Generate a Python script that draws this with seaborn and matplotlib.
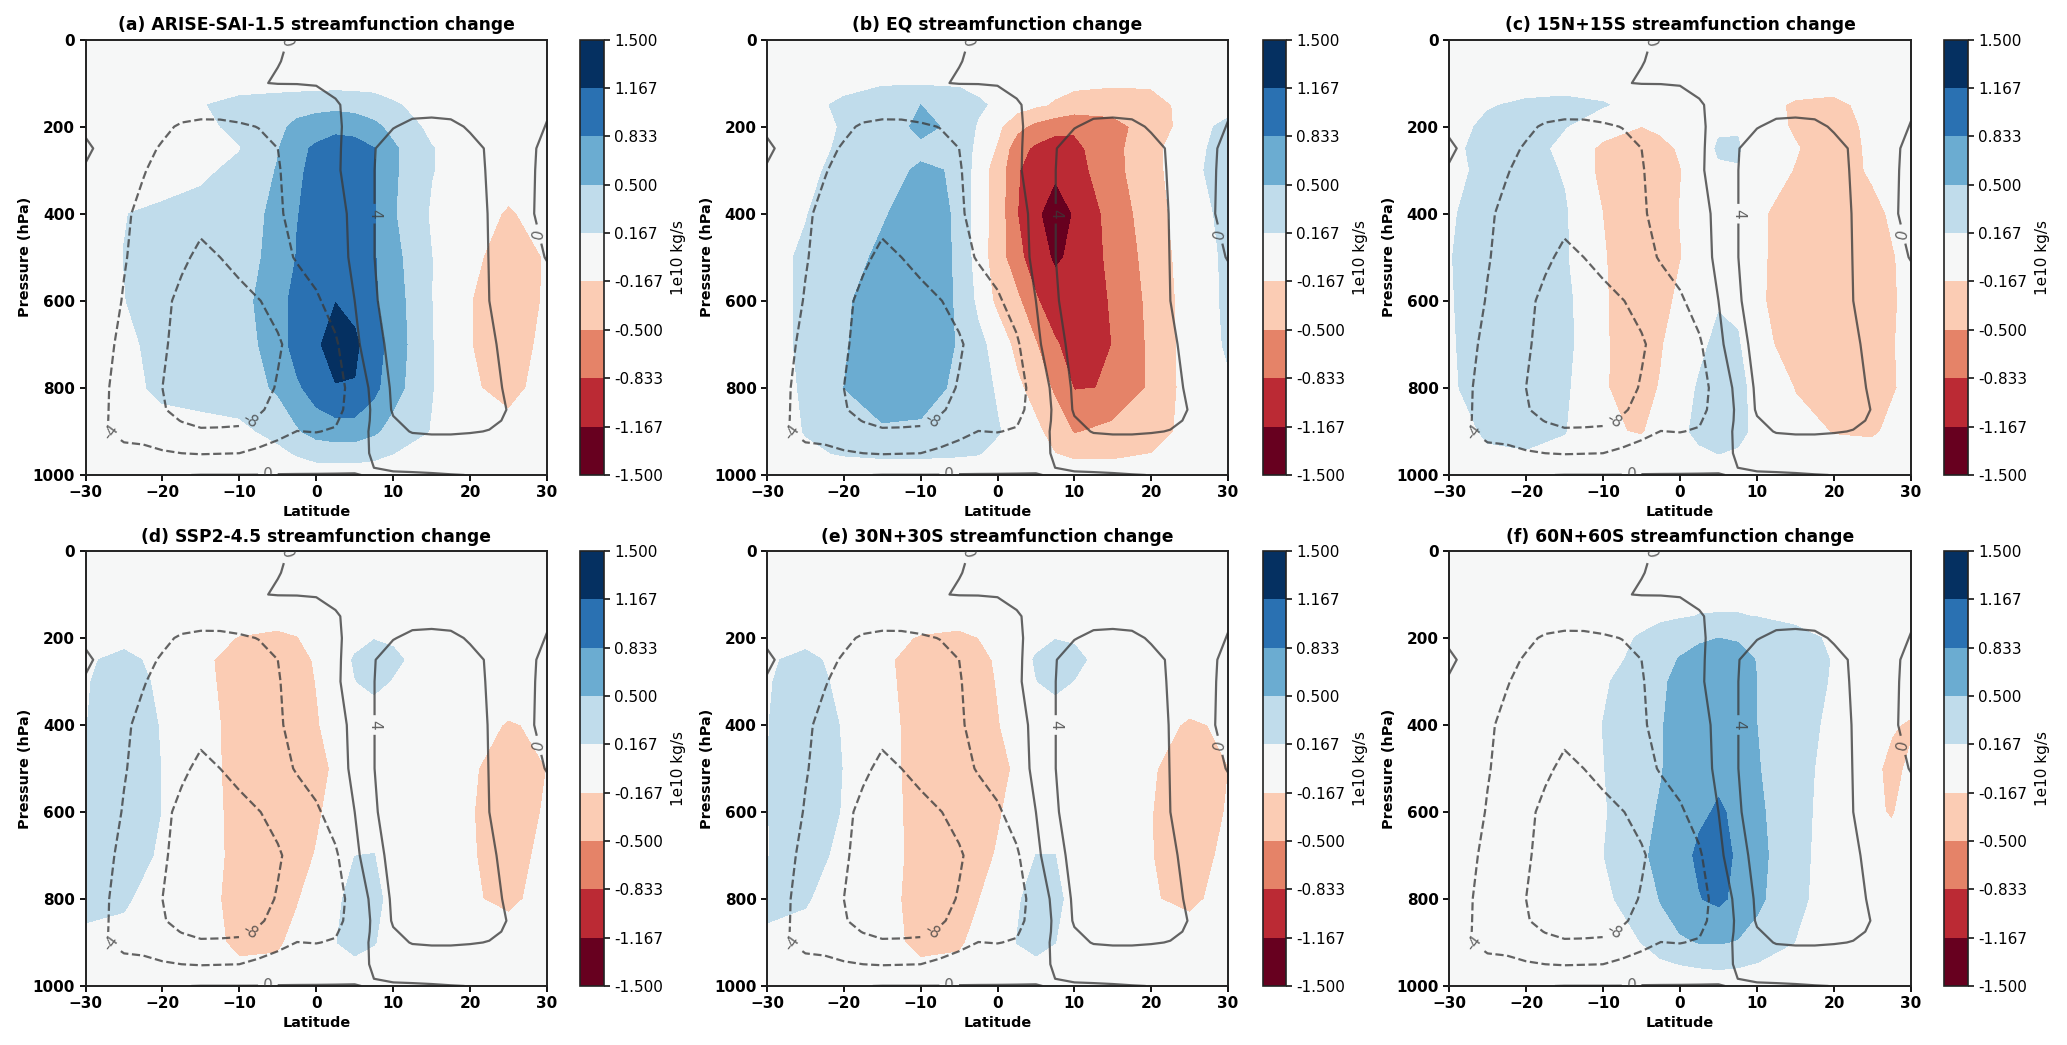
import numpy as np
import matplotlib
matplotlib.use("Agg")
import matplotlib.pyplot as plt
import seaborn as sns

sns.set_theme(style="ticks", font="DejaVu Sans", rc={
    "text.color": "black", "axes.labelcolor": "black", "xtick.color": "black",
    "ytick.color": "black", "axes.edgecolor": "#222222"})

# Grids
lat_clim = [-30, -27.5, -25, -22.5, -20, -17.5, -15, -12.5, -10, -7.5, -5, -2.5, 0, 2.5, 5, 7.5, 10,
            12.5, 15, 17.5, 20, 22.5, 25, 27.5, 30]
p_clim = [0, 50, 100, 150, 200, 250, 300, 400, 500, 600, 700, 800, 850, 875, 900, 950, 1000]
lat_chg = [-30, -25, -20, -15, -10, -5, -2.5, 0, 2.5, 5, 7.5, 10, 15, 20, 25, 30]
lat_f = [-30, -25, -20, -15, -10, -5, -2.5, 0, 2.5, 5, 7.5, 10, 15, 20, 25, 27.5, 30]
p_chg = [0, 100, 150, 200, 250, 300, 400, 500, 600, 700, 800, 900, 950, 1000]

# Climatological streamfunction (1e10 kg/s)
clim = [
    [-.1, -.1, -.1, -.1, -.1, -.1, -.1, -.1, -.1, -.1, -.1, .1, .1, .1, .1, .1, .1, .1, .1, .1, .1, .1, .1, .1, .1],
    [-.2, -.2, -.2, -.2, -.2, -.2, -.2, -.2, -.2, -.15, -.02, .1, .1, .2, .2, .2, .2, .2, .2, .2, .2, .2, .2, .2, .2],
    [-.1, -.15, -.2, -.25, -.3, -.4, -.5, -.4, -.3, -.05, .05, .05, .1, .5, 1, 1.3, 1.5, 1.5, 1.5, 1.4, 1.2, 1, .8, .5, .3],
    [-.2, -.4, -.7, -1, -1.5, -1.8, -2, -1.9, -1.8, -1.6, -1.3, -1, -.7, -.2, .6, 1.2, 2, 2.4, 2.6, 2.4, 2, 1.6, 1.2, .8, .3],
    [-.2, -.8, -1.5, -2.3, -3.2, -4.5, -5, -5, -4.5, -3.9, -3, -2, -1.2, -.4, .8, 2, 3.8, 4.9, 5, 4.8, 3.6, 2.8, 1.8, .8, -.1],
    [.2, -.3, -1.5, -3, -4.4, -5.4, -6, -6.2, -6, -5.2, -4, -2.5, -1.5, -.6, 1.5, 3.8, 6, 6.8, 7, 6.3, 5, 3.6, 2, .4, -.5],
    [-.1, -.5, -2, -3.8, -5, -6.2, -7, -7.2, -7, -5.8, -4.2, -2.8, -1.7, -.7, 2, 3.9, 7, 7.8, 8, 7.2, 5.5, 3.6, 2, .5, -.8],
    [-.3, -1.5, -3.5, -4.8, -6, -6.7, -7.2, -7.3, -7, -5.8, -4.4, -3, -2, -1, .7, 3.9, 7, 8.2, 8.5, 7.8, 6, 3.8, 2.2, .5, -1],
    [-1, -2.2, -3.8, -5, -6.3, -7.5, -8.6, -8, -7, -6.1, -5.2, -3.7, -2.5, -1.2, .6, 3.9, 7, 8.2, 8.5, 7.8, 6, 3.9, 2.2, .7, -.1],
    [-1.5, -2.7, -4.2, -5.5, -7.3, -8.7, -10, -9.7, -9, -8.1, -7.2, -5.8, -4.5, -2.5, 0, 3.5, 6, 7.5, 8, 7.5, 6, 4, 3, 2, 1],
    [-2, -3.2, -4.8, -6, -7.6, -9, -10.5, -10.5, -10, -9.2, -8.3, -7, -6, -4.5, -1, 2.8, 5, 6.3, 7, 6.7, 6, 4.6, 3, 2, 1],
    [-2, -3.7, -5, -6.5, -8, -9, -10, -10.2, -10, -8.9, -7.8, -6.5, -6, -5, -3, 1.2, 4.6, 5.5, 6, 5.8, 5.5, 5, 3.5, 2, 1],
    [-1.5, -3.8, -4.8, -6, -7.8, -8.8, -9.5, -9.5, -9.2, -8.3, -7.3, -6, -5.7, -5, -2.5, .6, 4.4, 5.2, 5.5, 5.3, 5, 4.8, 3.9, 2, 1],
    [-1.5, -3.8, -4.9, -5.8, -7.2, -8.1, -8.6, -8.5, -8.4, -7.7, -6.2, -5, -4.9, -4.4, -1.8, .5, 3.7, 4.9, 5, 4.8, 4.6, 4.5, 3.7, 1.8, .9],
    [-1.5, -3.7, -5, -5.5, -6.5, -7.2, -7.7, -7.7, -7.6, -6.3, -5, -3.95, -4.1, -3.7, -1, .4, 3, 4.2, 4.4, 4.4, 4.2, 3.9, 2.5, 1.5, .8],
    [-.8, -2, -3, -3, -3.6, -4, -4.2, -4.1, -4, -3.2, -2.5, -2, -1.8, -1.5, -.6, .2, 1, 1.3, 1.5, 1.5, 1.5, 1.2, 1, .7, .4],
    [-.2, -.2, -.2, -.1, -.1, -.05, .05, .05, .05, .05, .1, .1, .1, .1, .05, -.1, -.2, -.2, -.15, -.05, .02, .02, .02, .02, .02],
]

change_a = [
    [0] * 16,
    [0, 0, 0, .01, .05, .05, .05, .05, .05, .05, .05, .03, 0, 0, 0, 0],
    [0, 0, .05, .15, .25, .3, .33, .35, .38, .35, .3, .2, .05, 0, 0, 0],
    [0, 0, .02, .08, .25, .4, .6, .72, .78, .72, .58, .4, .08, 0, 0, 0],
    [0, 0, .02, .05, .15, .48, .77, .87, .92, .95, .84, .55, .18, 0, -.02, 0],
    [0, 0, .03, .1, .25, .52, .78, .92, 1.0, 1.02, .86, .55, .18, 0, -.03, 0],
    [0, .16, .22, .28, .38, .56, .82, .95, 1.03, 1.05, .85, .53, .13, -.03, -.2, -.05],
    [.02, .17, .28, .33, .42, .56, .85, 1.0, 1.1, 1.1, .86, .6, .17, -.11, -.28, -.15],
    [.02, .16, .28, .35, .38, .7, .95, 1.05, 1.16, 1.08, .88, .65, .17, -.16, -.3, -.14],
    [0, .1, .26, .33, .36, .64, 1.0, 1.12, 1.3, 1.22, 1.0, .68, .18, -.16, -.3, -.1],
    [0, .03, .26, .3, .32, .55, .77, 1.0, 1.15, 1.15, .92, .63, .18, -.12, -.28, -.03],
    [0, 0, 0, .05, .1, .25, .46, .62, .68, .68, .55, .38, .15, -.02, -.05, 0],
    [0, 0, 0, 0, 0, .1, .19, .28, .3, .3, .25, .17, .03, 0, 0, 0],
    [0] * 16,
]

change_b = [
    [0] * 16,
    [0, 0, .05, .13, .13, .12, .03, 0, -.02, -.05, -.08, -.1, -.12, -.1, -.02, 0],
    [0, .05, .24, .38, .5, .35, .24, .08, -.03, -.12, -.2, -.3, -.38, -.36, 0, 0],
    [0, .05, .19, .35, .56, .44, .12, -.1, -.4, -.6, -.72, -.78, -.6, -.37, -.02, .28],
    [0, .05, .22, .38, .45, .42, .05, -.2, -.7, -.9, -1.0, -.92, -.6, -.28, .08, .27],
    [0, .06, .3, .42, .53, .48, -.03, -.3, -.8, -1.0, -1.12, -.98, -.6, -.3, .1, .28],
    [0, .15, .38, .48, .6, .47, -.02, -.3, -.82, -1.12, -1.3, -1.15, -.7, -.33, .03, .25],
    [.05, .22, .42, .54, .62, .47, -.02, -.32, -.74, -1.0, -1.22, -1.1, -.75, -.38, 0, .22],
    [.05, .22, .47, .6, .65, .47, .08, -.25, -.42, -.8, -1.02, -1.08, -.8, -.42, -.02, .22],
    [.05, .22, .48, .62, .65, .48, .26, .03, -.26, -.48, -.8, -.96, -.83, -.44, -.02, .2],
    [.04, .2, .5, .62, .62, .44, .29, .13, -.1, -.3, -.56, -.85, -.82, -.45, -.03, .13],
    [0, .18, .4, .47, .45, .35, .28, .19, .05, -.1, -.3, -.53, -.4, -.32, -.06, 0],
    [0, .12, .19, .22, .22, .2, .18, .09, .02, -.03, -.17, -.24, -.24, -.17, -.02, 0],
    [0] * 16,
]

change_c = [
    [0] * 16,
    [0, 0, .03, .03, .02, 0, 0, 0, 0, 0, 0, 0, -.03, -.03, -.01, 0],
    [0, .14, .22, .26, .19, .05, 0, 0, 0, .03, .02, -.05, -.21, -.26, -.05, 0],
    [.03, .24, .3, .18, -.02, -.17, -.12, 0, .02, .13, .14, -.03, -.2, -.3, -.1, 0],
    [.08, .28, .3, .08, -.24, -.28, -.24, -.14, .02, .2, .2, -.03, -.15, -.3, -.12, 0],
    [.06, .26, .3, .14, -.26, -.3, -.28, -.18, -.04, .13, .15, -.03, -.18, -.3, -.13, 0],
    [.13, .3, .33, .2, -.17, -.32, -.3, -.16, -.04, 0, -.03, -.12, -.3, -.37, -.24, -.03],
    [.15, .33, .34, .2, -.15, -.33, -.32, -.18, -.06, .01, -.03, -.12, -.3, -.38, -.3, -.08],
    [.14, .33, .36, .25, -.14, -.33, -.28, -.1, .05, .14, .1, -.12, -.33, -.4, -.33, -.08],
    [.13, .32, .35, .26, -.14, -.31, -.19, -.04, .1, .24, .2, -.08, -.28, -.4, -.34, -.05],
    [.12, .3, .33, .22, -.15, -.26, -.15, .03, .2, .28, .24, .08, -.18, -.35, -.32, -.08],
    [0, .22, .29, .18, -.13, -.19, -.06, .1, .24, .3, .24, .1, -.08, -.18, -.2, -.04],
    [0, .12, .14, .08, -.04, -.05, -.02, .03, .12, .17, .14, .05, -.03, -.09, -.09, -.01],
    [0] * 16,
]

change_d = [
    [0] * 16,
    [0] * 16,
    [0, .02, 0, 0, -.05, -.04, -.05, 0, 0, .03, .05, .03, 0, 0, 0, 0],
    [0, .08, .03, -.07, -.18, -.24, -.18, -.06, 0, .1, .16, .13, 0, 0, 0, 0],
    [.13, .24, .08, -.12, -.26, -.32, -.26, -.14, .04, .19, .24, .22, .03, 0, 0, 0],
    [.15, .27, .12, -.12, -.24, -.35, -.3, -.16, .02, .16, .23, .15, .02, 0, 0, 0],
    [.16, .3, .15, -.06, -.27, -.37, -.34, -.2, -.03, .05, .02, .02, 0, -.06, -.19, -.12],
    [.16, .32, .16, -.04, -.28, -.36, -.35, -.27, -.12, 0, 0, 0, -.02, -.13, -.3, -.165],
    [.16, .32, .16, -.04, -.26, -.34, -.33, -.22, -.05, 0, 0, 0, -.03, -.15, -.3, -.14],
    [.16, .28, .13, -.04, -.25, -.33, -.28, -.15, 0, .165, .175, 0, -.04, -.14, -.3, -.08],
    [.2, .2, .04, -.09, -.24, -.3, -.19, -.03, .12, .25, .24, .08, -.02, -.14, -.22, -.08],
    [.14, .09, 0, -.07, -.22, -.21, -.08, .02, .16, .24, .18, .06, 0, -.02, -.05, -.02],
    [.05, .02, 0, -.03, -.14, -.12, -.03, .01, .08, .12, .08, .03, 0, 0, 0, 0],
    [0] * 16,
]

change_e = [
    [0] * 16,
    [0] * 16,
    [0, .02, 0, 0, -.05, -.04, -.05, 0, 0, .03, .05, .03, 0, 0, 0, 0],
    [0, .08, .02, -.08, -.19, -.24, -.17, -.05, 0, .1, .16, .14, 0, 0, 0, 0],
    [.13, .24, .07, -.12, -.27, -.32, -.26, -.13, .04, .19, .25, .23, .03, 0, 0, 0],
    [.15, .26, .11, -.12, -.25, -.35, -.3, -.15, .02, .16, .23, .16, .02, 0, 0, 0],
    [.16, .29, .15, -.07, -.28, -.37, -.34, -.19, -.03, .05, .02, .02, 0, -.07, -.2, -.13],
    [.16, .31, .16, -.05, -.29, -.37, -.36, -.27, -.12, 0, 0, 0, -.03, -.14, -.31, -.17],
    [.16, .31, .15, -.05, -.27, -.35, -.34, -.21, -.04, 0, 0, 0, -.04, -.16, -.32, -.15],
    [.16, .27, .1, -.05, -.26, -.34, -.28, -.14, .02, .17, .17, 0, -.05, -.16, -.3, -.1],
    [.2, .19, .03, -.09, -.25, -.3, -.18, -.02, .14, .25, .23, .08, -.02, -.15, -.22, -.08],
    [.14, .08, 0, -.08, -.23, -.21, -.08, .03, .17, .24, .17, .05, 0, -.02, -.05, -.02],
    [.05, .02, 0, -.03, -.14, -.11, -.03, .02, .08, .12, .08, .03, 0, 0, 0, 0],
    [0] * 16,
]

change_f = [
    [0] * 17,
    [0, 0, 0, 0, 0, .03, .05, .08, .1, .1, .1, .07, .03, 0, 0, 0, 0],
    [0, 0, 0, 0, 0, .06, .11, .14, .175, .18, .18, .16, .1, .03, 0, 0, 0],
    [0, 0, 0, 0, .03, .2, .3, .38, .46, .5, .48, .38, .26, .12, 0, 0, 0],
    [0, 0, 0, .01, .05, .26, .38, .52, .6, .62, .58, .49, .3, .15, 0, 0, 0],
    [0, 0, 0, .02, .14, .28, .44, .6, .67, .7, .62, .5, .3, .14, 0, 0, 0],
    [0, 0, 0, .04, .17, .3, .47, .66, .72, .75, .66, .5, .3, .09, -.03, -.14, -.2],
    [0, 0, 0, .05, .16, .31, .47, .72, .76, .78, .7, .52, .3, .03, -.1, -.24, -.12],
    [0, 0, 0, .08, .14, .36, .55, .73, .79, .86, .79, .56, .28, .02, -.12, -.19, -.05],
    [0, 0, 0, .08, .16, .43, .62, .74, .88, .97, .78, .6, .26, .02, -.03, -.05, 0],
    [0, 0, 0, .06, .12, .28, .52, .7, .82, .9, .75, .57, .24, .02, 0, 0, 0],
    [0, 0, 0, .02, .03, .17, .33, .45, .51, .52, .48, .38, .16, 0, 0, 0, 0],
    [0, 0, 0, 0, 0, .06, .11, .17, .2, .22, .2, .15, .05, 0, 0, 0, 0],
    [0] * 17,
]

titles = ["(a) ARISE-SAI-1.5 streamfunction change", "(b) EQ streamfunction change",
          "(c) 15N+15S streamfunction change", "(d) SSP2-4.5 streamfunction change",
          "(e) 30N+30S streamfunction change", "(f) 60N+60S streamfunction change"]
fill_levels = [-1.5, -1.167, -.833, -.5, -.167, .167, .5, .833, 1.167, 1.5]
line_levels = [-8, -4, 0, 4]
label_spots = [(-3.5, 8), (-6.3, 990), (7.7, 400), (28.9, 447), (-26.6, 900), (-8.3, 885)]

panels = [(change_a, lat_chg), (change_b, lat_chg), (change_c, lat_chg),
          (change_d, lat_chg), (change_e, lat_chg), (change_f, lat_f)]

W, H = 2067, 1045
col_x = [(85.5, 547, 580, 604), (767, 1228, 1263, 1286), (1449, 1911, 1944, 1968)]
row_y = [(39.5, 475), (551, 986)]
cmap = sns.color_palette("RdBu", as_cmap=True)

fig = plt.figure(figsize=(W / 100, H / 100), dpi=100, facecolor="white")
for i, (data, lats) in enumerate(panels):
    x0, x1, c0, c1 = col_x[i % 3]
    y0, y1 = row_y[i // 3]
    ax = fig.add_axes([x0 / W, 1 - y1 / H, (x1 - x0) / W, (y1 - y0) / H])
    cax = fig.add_axes([c0 / W, 1 - y1 / H, (c1 - c0) / W, (y1 - y0) / H])
    # colour limits at the outer layer midpoints so the end bins take the end colours
    cf = ax.contourf(lats, p_chg, np.array(data, float), levels=fill_levels, cmap=cmap,
                     vmin=-1.3335, vmax=1.3335)
    cs = ax.contour(lat_clim, p_clim, np.array(clim, float), levels=line_levels,
                    colors="#3a3a3a", linewidths=1.6, alpha=0.78)
    ax.clabel(cs, fmt="%d", inline=True, fontsize=11, manual=label_spots)
    ax.set_xlim(-30, 30)
    ax.set_ylim(1000, 0)
    ax.set_xticks([-30, -20, -10, 0, 10, 20, 30])
    ax.set_yticks([0, 200, 400, 600, 800, 1000])
    ax.tick_params(labelsize=11, width=1.3, length=4.5, pad=3)
    for t in ax.get_xticklabels() + ax.get_yticklabels():
        t.set_fontweight("bold")
    ax.set_xlabel("Latitude", fontsize=10.4, fontweight="bold", labelpad=3.5)
    ax.set_ylabel("Pressure (hPa)", fontsize=10.4, fontweight="bold", labelpad=0.5)
    ax.set_title(titles[i], fontsize=12.3, fontweight="bold", pad=6.5)
    for s in ax.spines.values():
        s.set_visible(True)
        s.set_linewidth(1.4)
    cb = fig.colorbar(cf, cax=cax, ticks=fill_levels, format="%.3f")
    cb.ax.tick_params(labelsize=11, width=1.1, length=4.5, pad=3)
    cb.set_label("1e10 kg/s", fontsize=11, labelpad=5.5)
    cb.outline.set_linewidth(1.2)

fig.savefig("out.png", dpi=100, facecolor="white")
